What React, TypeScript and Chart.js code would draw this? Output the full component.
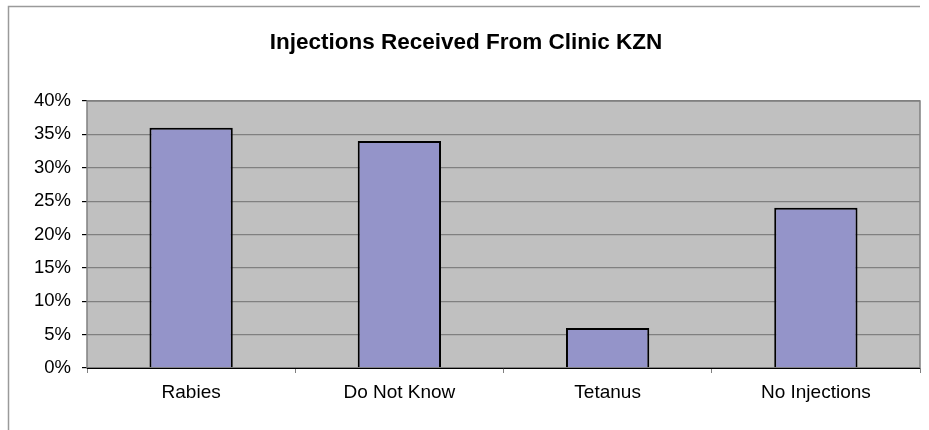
import React, { useEffect, useRef } from "react";
import { Chart, registerables } from "chart.js";

Chart.register(...registerables);

const categories = ["Rabies", "Do Not Know", "Tetanus", "No Injections"];
const values = [0.36, 0.34, 0.06, 0.24];
const titleText = "Injections Received From Clinic KZN";

const bgPlugin = {
  id: "excelBg",
  beforeDraw(chart: any) {
    const { ctx, chartArea } = chart;
    ctx.save();
    ctx.fillStyle = "#ffffff";
    ctx.fillRect(0, 0, chart.width, chart.height);
    // outer frame (top + left)
    ctx.strokeStyle = "#9a9a9a";
    ctx.lineWidth = 1.5;
    ctx.beginPath();
    ctx.moveTo(8.5, chart.height);
    ctx.lineTo(8.5, 6.5);
    ctx.lineTo(920, 6.5);
    ctx.stroke();
    ctx.fillStyle = "#c0c0c0";
    ctx.fillRect(chartArea.left, chartArea.top, chartArea.right - chartArea.left, chartArea.bottom - chartArea.top);
    ctx.restore();
  },
  afterDatasetsDraw(chart: any) {
    const { ctx, chartArea } = chart;
    ctx.save();
    ctx.strokeStyle = "#808080";
    ctx.lineWidth = 1.5;
    ctx.strokeRect(chartArea.left, chartArea.top, chartArea.right - chartArea.left, chartArea.bottom - chartArea.top);
    ctx.strokeStyle = "#000";
    ctx.lineWidth = 1;
    ctx.beginPath();
    ctx.moveTo(chartArea.left, chartArea.bottom + 0.5);
    ctx.lineTo(chartArea.right, chartArea.bottom + 0.5);
    ctx.stroke();
    ctx.restore();
  },
};

export default function App() {
  const ref = useRef<HTMLCanvasElement>(null);
  useEffect(() => {
    const chart = new Chart(ref.current!, {
      type: "bar",
      data: {
        labels: categories,
        datasets: [
          {
            data: values,
            backgroundColor: "#9494c9",
            borderColor: "#000000",
            borderWidth: 2,
            barPercentage: 0.4,
            categoryPercentage: 1,
          },
        ],
      },
      options: {
        animation: false,
        responsive: false,
        layout: { padding: { left: 12, right: 9, top: 0, bottom: 0 } },
        plugins: {
          legend: { display: false },
          tooltip: { enabled: false },
          title: {
            display: true,
            text: titleText,
            color: "#000",
            font: { family: "Arial, 'Liberation Sans'", size: 22.5, weight: "bold" },
            padding: { top: 29.5, bottom: 44.5 },
          },
        },
        scales: {
          x: {
            offset: true,
            grid: {
              offset: true,
              drawOnChartArea: false,
              color: "#000",
              tickLength: 5,
              tickColor: "#808080",
            },
            border: { display: false },
            ticks: {
              color: "#000",
              padding: 8,
              font: { family: "Arial, 'Liberation Sans'", size: 19 },
              maxRotation: 0,
            },
            afterFit(scale: any) {
              scale.height = 62;
            },
          },
          y: {
            min: 0,
            max: 0.4,
            grid: {
              color: "#808080",
              lineWidth: 1.2,
              tickLength: 5,
              tickColor: "#000",
            },
            border: { display: false },
            ticks: {
              stepSize: 0.05,
              color: "#000",
              padding: 11,
              font: { family: "Arial, 'Liberation Sans'", size: 18.5 },
              callback: (v: any) => Math.round(Number(v) * 100) + "%",
            },
            afterFit(scale: any) {
              scale.width = 75;
            },
          },
        },
      },
      plugins: [bgPlugin],
    });
    return () => chart.destroy();
  }, []);
  return (
    <div style={{ position: "fixed", left: 0, top: 0, width: 929, height: 430 }}>
      <canvas ref={ref} width={929} height={430} style={{ width: 929, height: 430, display: "block" }} />
    </div>
  );
}
